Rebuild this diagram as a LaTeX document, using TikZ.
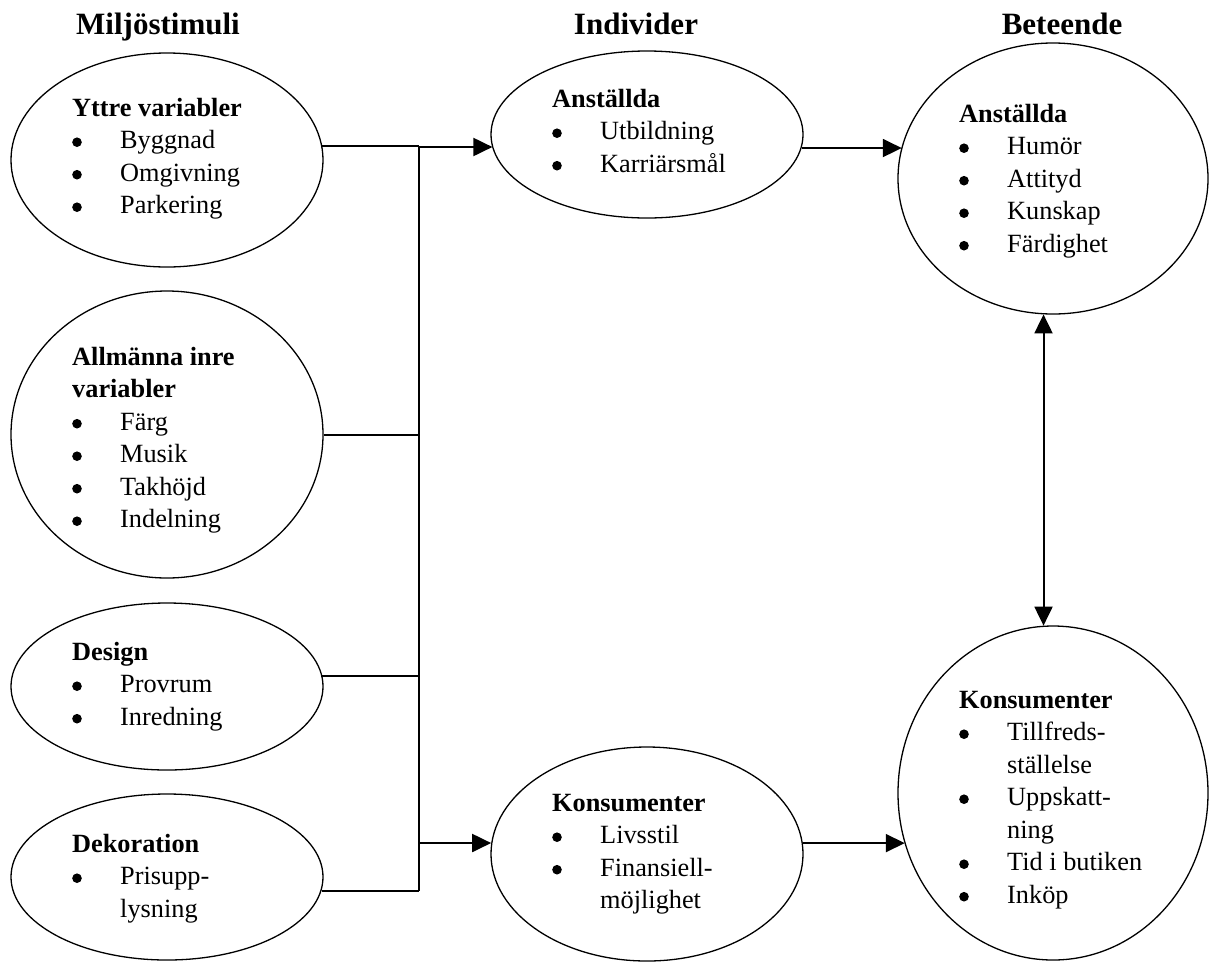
\documentclass[tikz,border=0pt]{standalone}
\usepackage{fontspec}
\setmainfont{Liberation Serif}
\usetikzlibrary{arrows.meta,shapes.geometric}

% list bullet: a filled dot sitting on the text axis
\newcommand{\dotb}{\tikz[baseline=-6.3pt]\fill (0,0) circle (4.8pt);}
% bold heading row spanning both list columns
\newcommand{\hd}[1]{\multicolumn{2}{@{}l@{}}{\bfseries #1}}
% bulleted block: bullet column + item column, baseline at first row
\newcommand{\blist}[1]{\begin{tabular}[t]{@{}p{48pt}@{}l@{}}#1\end{tabular}}

\begin{document}
\begin{tikzpicture}[x=1pt, y=-1pt,
  ell/.style={draw, ellipse, line width=1.3pt, inner sep=0pt},
  txt/.style={inner sep=0pt, anchor=base west, font=\fontsize{26.3}{32.5}\selectfont},
  ttl/.style={inner sep=0pt, anchor=base, font=\fontsize{31}{36}\selectfont\bfseries},
  conn/.style={line width=2pt},
  arr/.style={conn, -{Triangle[length=19pt,width=18pt]}},
  arrb/.style={conn, {Triangle[length=19pt,width=18pt]}-{Triangle[length=19pt,width=18pt]}}]

\fill[white] (0,0) rectangle (1209,962);
\useasboundingbox (0,0) rectangle (1209,962);

% column headings
\node[ttl] (h1) at (158,34) {Miljöstimuli};
\node[ttl] (h2) at (636,34) {Individer};
\node[ttl] (h3) at (1062,34) {Beteende};

% environmental stimuli
\node[ell, minimum width=312pt, minimum height=214pt] (e1) at (167,160) {};
\node[ell, minimum width=312pt, minimum height=287pt] (e2) at (167,434.5) {};
\node[ell, minimum width=312pt, minimum height=167pt] (e3) at (167,686.5) {};
\node[ell, minimum width=312pt, minimum height=166pt] (e4) at (167,877) {};

% individuals
\node[ell, minimum width=312pt, minimum height=167pt] (e5) at (647,134.5) {};
\node[ell, minimum width=312pt, minimum height=214pt] (e6) at (647,854) {};

% behaviour
\node[ell, minimum width=310pt, minimum height=271pt] (e7) at (1053,178.5) {};
\node[ell, minimum width=310pt, minimum height=334pt] (e8) at (1053,793) {};

% texts
\node[txt] (t1) at (72,116) {\blist{\hd{Yttre variabler}\\ \dotb & Byggnad\\ \dotb & Omgivning\\ \dotb & Parkering}};
\node[txt] (t2) at (72,365) {\blist{\hd{Allmänna inre}\\ \hd{variabler}\\ \dotb & Färg\\ \dotb & Musik\\ \dotb & Takhöjd\\ \dotb & Indelning}};
\node[txt] (t3) at (72,660) {\blist{\hd{Design}\\ \dotb & Provrum\\ \dotb & Inredning}};
\node[txt] (t4) at (72,852) {\blist{\hd{Dekoration}\\ \dotb & Prisupp-\\ & lysning}};
\node[txt] (t5) at (552,107) {\blist{\hd{Anställda}\\ \dotb & Utbildning\\ \dotb & Karriärsmål}};
\node[txt] (t6) at (552,811) {\blist{\hd{Konsumenter}\\ \dotb & Livsstil\\ \dotb & Finansiell-\\ & möjlighet}};
\node[txt] (t7) at (959,122) {\blist{\hd{Anställda}\\ \dotb & Humör\\ \dotb & Attityd\\ \dotb & Kunskap\\ \dotb & Färdighet}};
\node[txt] (t8) at (959,708) {\blist{\hd{Konsumenter}\\ \dotb & Tillfreds-\\ & ställelse\\ \dotb & Uppskatt-\\ & ning\\ \dotb & Tid i butiken\\ \dotb & Inköp}};

% collector bus
\coordinate (jt) at (419,147);
\coordinate (jm) at (419,843);
\coordinate (jb) at (e4.355 -| jt);

\draw[conn] (jt) -- (jb);
\draw[conn] (e1.5) -- (e1.5 -| jt);
\draw[conn] (e2.east) -- (e2.east -| jt);
\draw[conn] (e3.4) -- (e3.4 -| jt);
\draw[conn] (e4.355) -- (jb);

% flows
\draw[arr] (jt) -- (jt -| e5.185);
\draw[arr] (jm) -- (jm -| e6.176);
\draw[arr] (e5.355) -- (e5.355 -| e7.168);
\draw[arr] (e6.4) -- (e6.4 -| e8.199);
\draw[arrb] (e7.266) -- (e7.266 |- e8.93);

\end{tikzpicture}
\end{document}
